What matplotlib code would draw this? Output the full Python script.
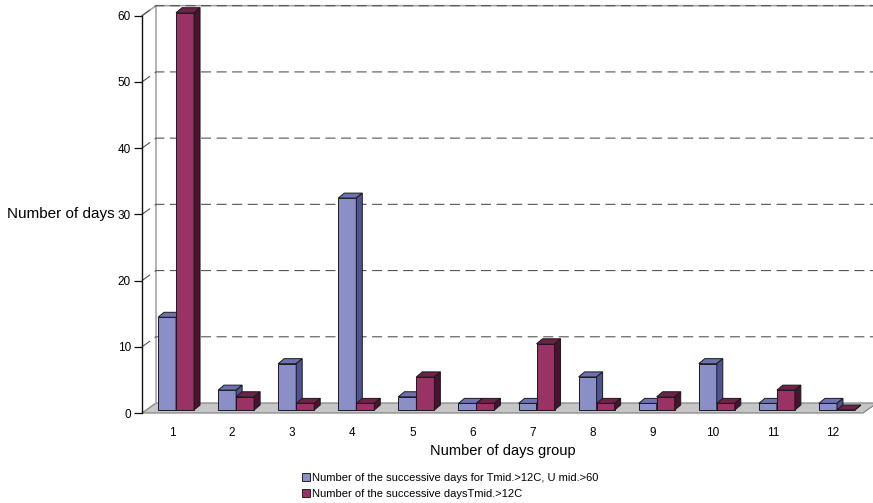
import matplotlib
matplotlib.use("Agg")
import matplotlib.pyplot as plt
from matplotlib.patches import Polygon, Patch
import numpy as np

plt.rcParams['font.family'] = ['Liberation Sans', 'DejaVu Sans']

# ---- data ----
groups = [1, 2, 3, 4, 5, 6, 7, 8, 9, 10, 11, 12]
humid_days = [14, 3, 7, 32, 2, 1, 1, 5, 1, 7, 1, 1]
warm_days = [60, 2, 1, 1, 5, 1, 10, 1, 2, 1, 3, 0]
series_labels = ["Number of the successive days for Tmid.>12C, U mid.>60",
                 "Number of the successive daysTmid.>12C"]
y_ticks = [0, 10, 20, 30, 40, 50, 60]

# ---- colours ----
blue_face, blue_top, blue_side = "#8b8fc8", "#6d71b0", "#4f5390"
red_face, red_top, red_side = "#993366", "#6e2149", "#4a1231"
edge = "#1a1a1a"

W, H = 873, 503
fig = plt.figure(figsize=(W / 100, H / 100), dpi=100)
left_px, right_px, bottom_px, top_px = 142, 863, 413, 15.7
ax = fig.add_axes([left_px / W, (H - bottom_px) / H,
                   (right_px - left_px) / W, (bottom_px - top_px) / H])
xmin, xmax, ymin, ymax = 0.5, 12.5, 0, 60
ax.set_xlim(xmin, xmax)
ax.set_ylim(ymin, ymax)

# pixel -> data unit conversions for the pseudo-3D depth
ppx = (right_px - left_px) / (xmax - xmin)
ppy = (bottom_px - top_px) / (ymax - ymin)
DX, DY = 14 / ppx, 10 / ppy          # depth of the floor / walls
bx0, by0 = 4 / ppx, 3 / ppy          # bars set back from the front edge
bdx, bdy = 6 / ppx, 5 / ppy          # bar depth
bw = 18 / ppx                        # bar width

# floor
floor = Polygon([(xmin, 0), (xmax, 0), (xmax + DX, DY), (xmin + DX, DY)],
                closed=True, facecolor="#c6c6c6", edgecolor="#7a7a7a",
                lw=0.8, clip_on=False, zorder=1)
ax.add_patch(floor)

# back wall border and side wall top edge
wall_col = "#a6a6a6"
ax.plot([xmin + DX, xmin + DX], [DY, ymax + DY], color=wall_col, lw=1.2,
        clip_on=False, zorder=1)
ax.plot([xmin, xmin + DX, xmax + DX + 1], [ymax, ymax + DY, ymax + DY],
        color=wall_col, lw=1.2, clip_on=False, zorder=1)

# dashed gridlines across side wall and back wall
for v in y_ticks[1:]:
    ax.plot([xmin, xmin + DX, xmax + DX + 1], [v, v + DY, v + DY],
            color="#555555", lw=0.8, linestyle=(0, (9, 5)),
            clip_on=False, zorder=1.5)


def bar3d(x0, h, face, top, side, z):
    ax.bar([x0], [h], width=bw, bottom=by0, align="edge", color=face,
           edgecolor=edge, linewidth=0.7, clip_on=False, zorder=z)
    y1 = h + by0
    ax.add_patch(Polygon([(x0, y1), (x0 + bw, y1), (x0 + bw + bdx, y1 + bdy),
                          (x0 + bdx, y1 + bdy)], closed=True, facecolor=top,
                         edgecolor=edge, lw=0.7, clip_on=False, zorder=z))
    ax.add_patch(Polygon([(x0 + bw, by0), (x0 + bw + bdx, by0 + bdy),
                          (x0 + bw + bdx, y1 + bdy), (x0 + bw, y1)],
                         closed=True, facecolor=side, edgecolor=edge, lw=0.7,
                         clip_on=False, zorder=z))


z = 2
for g, a, b in zip(groups, humid_days, warm_days):
    xb = g + bx0 - bw
    bar3d(xb, a, blue_face, blue_top, blue_side, z)
    z += 0.01
    bar3d(xb + bw, b, red_face, red_top, red_side, z)
    z += 0.01

# axes styling
for s in ["top", "right", "bottom"]:
    ax.spines[s].set_visible(False)
ax.spines["left"].set_color("#111111")
ax.spines["left"].set_linewidth(1.0)
ax.spines["left"].set_zorder(3)
ax.set_yticks(y_ticks)
ax.tick_params(axis="y", direction="out", length=6, width=0.9,
               color="#111111", labelsize=8.5, pad=2)
ax.set_xticks(groups)
ax.set_xticklabels([str(g) for g in groups])
ax.tick_params(axis="x", length=0, labelsize=8.5, pad=10)
ax.set_facecolor("none")

ax.set_xlabel("Number of days group", fontsize=10.5, labelpad=4)
ax.set_ylabel("Number of days", fontsize=11, rotation=0, labelpad=2,
              va="center", ha="right")

handles = [Patch(facecolor=blue_face, edgecolor="#222222", lw=0.7),
           Patch(facecolor=red_face, edgecolor="#222222", lw=0.7)]
fig.legend(handles, series_labels, loc="upper left",
           bbox_to_anchor=(296 / W, 1 - 467 / H), frameon=False,
           fontsize=8, handlelength=0.75, handleheight=0.75,
           handletextpad=0.15, labelspacing=0.6, borderpad=0)

fig.savefig("out.png", dpi=100)
